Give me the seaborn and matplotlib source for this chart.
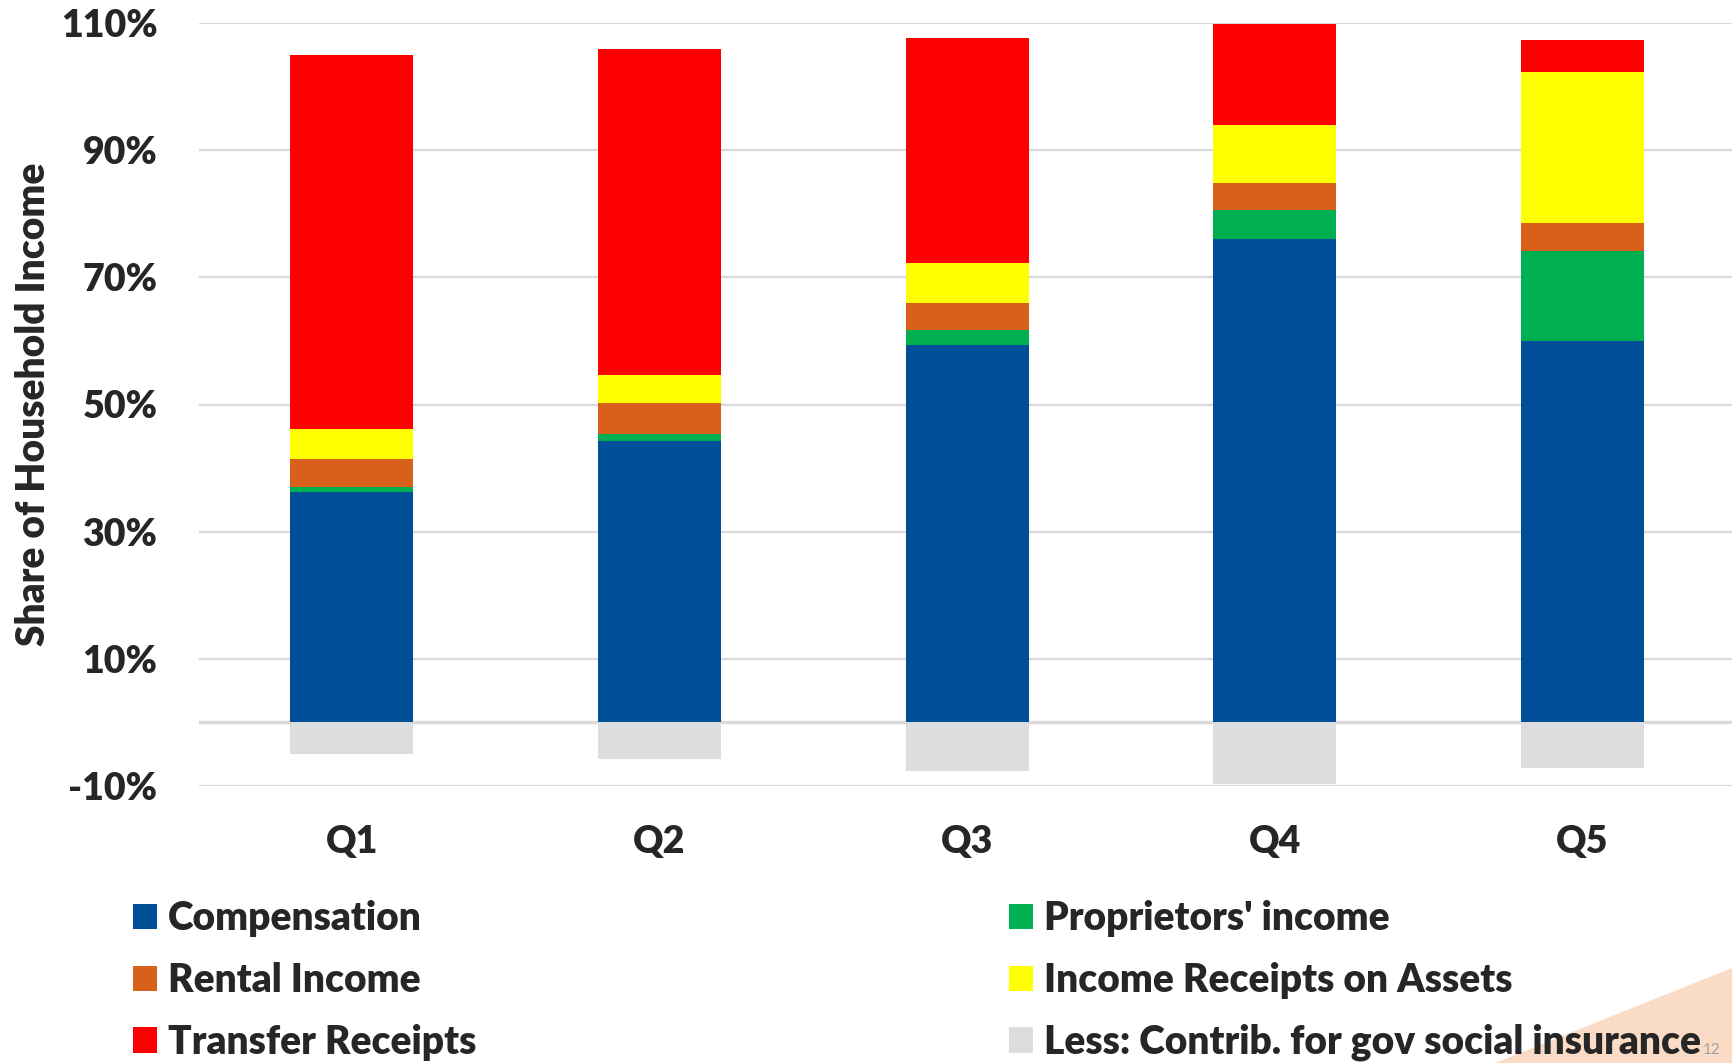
import numpy as np
import pandas as pd
import matplotlib
matplotlib.use("Agg")
import matplotlib.pyplot as plt
from matplotlib.patches import Patch, Polygon
import seaborn as sns

# ---- data (percent of household income) ----
quintiles = ["Q1", "Q2", "Q3", "Q4", "Q5"]
compensation = [36.3, 44.3, 59.4, 76.1, 60.0]
proprietors = [0.8, 1.1, 2.3, 4.5, 14.1]
rental = [4.3, 4.8, 4.3, 4.2, 4.4]
assets = [4.7, 4.5, 6.2, 9.1, 23.8]
transfers = [58.9, 51.2, 35.5, 15.9, 5.1]
contrib = [-5.0, -5.7, -7.7, -9.7, -7.2]

series_names = ["Compensation", "Proprietors' income", "Rental Income",
                "Income Receipts on Assets", "Transfer Receipts",
                "Less: Contrib. for gov social insurance"]
yticks = [-10, 10, 30, 50, 70, 90, 110]
ytick_labels = ["-10%", "10%", "30%", "50%", "70%", "90%", "110%"]

colors = {
    "Compensation": "#004F98",
    "Proprietors' income": "#00B050",
    "Rental Income": "#D9601A",
    "Income Receipts on Assets": "#FFFF00",
    "Transfer Receipts": "#FF0000",
    "Less: Contrib. for gov social insurance": "#DCDDDF",
}

sns.set_theme(style="white")
plt.rcParams["font.family"] = ["Lato", "DejaVu Sans"]
plt.rcParams["font.weight"] = "bold"

W, H = 1732, 1063
fig = plt.figure(figsize=(W / 100, H / 100), dpi=100)
ax = fig.add_axes([199 / W, 1 - 786 / H, (W - 199) / W, (786 - 23) / H])

pos_series = [compensation, proprietors, rental, assets, transfers]
cum = np.cumsum(np.array(pos_series), axis=0)

# draw cumulative stacks from top layer down so each layer overlays the previous
for i in range(len(pos_series) - 1, -1, -1):
    df = pd.DataFrame({"Quintile": quintiles, "value": cum[i]})
    sns.barplot(data=df, x="Quintile", y="value", order=quintiles,
                color=colors[series_names[i]], width=0.40, saturation=1,
                linewidth=0, ax=ax, zorder=3)

df_neg = pd.DataFrame({"Quintile": quintiles, "value": contrib})
sns.barplot(data=df_neg, x="Quintile", y="value", order=quintiles,
            color=colors[series_names[5]], width=0.40, saturation=1,
            linewidth=0, ax=ax, zorder=3)

ax.set_xlim(-0.497, 4.486)
ax.set_ylim(-10, 110)
ax.set_yticks(yticks)
ax.set_yticklabels(ytick_labels)
ax.grid(axis="y", color="#D9D9D9", linewidth=1.6, zorder=0)
ax.grid(axis="x", visible=False)
ax.axhline(0, color="#D9D9D9", linewidth=2.4, zorder=2)
for s in ax.spines.values():
    s.set_visible(False)
ax.tick_params(axis="y", length=0, pad=30, labelsize=27)
ax.tick_params(axis="x", length=0, pad=28, labelsize=27)
for lab in ax.get_xticklabels() + ax.get_yticklabels():
    lab.set_fontweight("heavy")
ax.set_xlabel("")
ax.set_ylabel("Share of Household Income", fontsize=28, fontweight="heavy", labelpad=6)

# decorative slide triangle in bottom-right corner
tri = Polygon([(1495 / W, 0), (1.0, 1 - 968 / H), (1.0, 0)], closed=True,
              transform=fig.transFigure, facecolor="#FADBC5", edgecolor="none", zorder=0)
fig.patches.append(tri)
fig.text(1712 / W, 1 - 1050 / H, "12", fontsize=11, color="#A0A0A0",
         ha="center", va="center", fontweight="normal")

order = [0, 2, 4, 1, 3, 5]
handles = [Patch(facecolor=colors[series_names[k]], edgecolor="none") for k in order]
labels = [series_names[k] for k in order]
leg = fig.legend(handles, labels, loc="upper left", ncol=2,
                 bbox_to_anchor=(133 / W, 1 - 900 / H), frameon=False,
                 handlelength=0.62, handleheight=0.62,
                 handletextpad=0.28, columnspacing=13.7, labelspacing=0.64,
                 borderpad=0, borderaxespad=0, prop={"weight": "heavy", "size": 28})

fig.savefig("out.png", dpi=100)
